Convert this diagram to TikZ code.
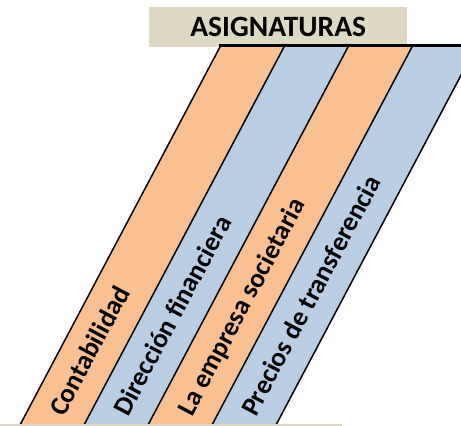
\documentclass[tikz,border=0pt]{standalone}
\usepackage{fontspec}
\setmainfont{Carlito}
\definecolor{stripor}{HTML}{FAC090}
\definecolor{stripbl}{HTML}{B9CDE5}
\definecolor{hdrbeige}{HTML}{DDD9C3}
\begin{document}
\begin{tikzpicture}[x=1pt,y=-1pt,
  striptext/.style={rotate=62, anchor=base west, inner sep=0pt,
    font=\fontsize{27}{30}\selectfont\bfseries},
  edge/.style={line width=1.5pt, black}]
\useasboundingbox (0,0) rectangle (461,426);
\node[fill=hdrbeige, minimum width=258pt, minimum height=40pt, anchor=north west, inner sep=0pt] (hdr) at (149,7) {};
\node[font=\fontsize{29.5}{32}\selectfont\bfseries, inner sep=0pt] (title) at (hdr.center) {ASIGNATURAS};
\begin{scope}
  \clip (0,0) rectangle (461,426);
  \fill[stripor] (221,45) -- (285,45) -- (84,425) -- (20,425) -- cycle;
  \fill[stripbl] (285,45) -- (349,45) -- (148,425) -- (84,425) -- cycle;
  \fill[stripor] (349,45) -- (413,45) -- (212,425) -- (148,425) -- cycle;
  \fill[stripbl] (413,45) -- (477,45) -- (276,425) -- (212,425) -- cycle;
  \foreach \i in {0,...,4} {
    \draw[edge] (221+64*\i,45) -- (20+64*\i,425);
  }
  \draw[line width=3pt] (219,45.5) -- (461,45.5);
\end{scope}
\draw[hdrbeige, line width=2.5pt] (0,425) -- (342,425);
\node[striptext] (t1) at (64,418) {Contabilidad};
\node[striptext] (t2) at (128,418) {Dirección financiera};
\node[striptext] (t3) at (192,418) {La empresa societaria};
\node[striptext] (t4) at (256,418) {Precios de transferencia};
\end{tikzpicture}
\end{document}
